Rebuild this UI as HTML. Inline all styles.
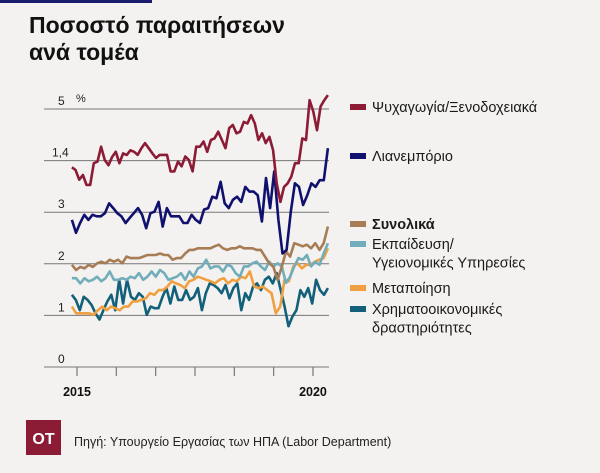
<!DOCTYPE html>
<html><head><meta charset="utf-8"><style>
body{margin:0;background:#f3f2f0;}
#wrap{position:relative;width:600px;height:473px;overflow:hidden;background:#f3f2f0;font-family:"Liberation Sans","DejaVu Sans",sans-serif;}
</style></head><body>
<div id="wrap">
<svg id="svg" width="600" height="473" xmlns="http://www.w3.org/2000/svg">
<rect x="0" y="0" width="152" height="3" fill="#1a1a6e"/>
<text x="29" y="33" font-size="23" font-weight="bold" fill="#111">Ποσοστό παραιτήσεων</text>
<text x="29" y="60" font-size="23" font-weight="bold" fill="#111">ανά τομέα</text>
<g id="grid"></g>
<g id="lines"></g>
<g id="legend"></g>
<rect x="26" y="420" width="35" height="35" fill="#8c1b35"/>
<text x="43.5" y="444" font-size="16" font-weight="bold" fill="#fff" text-anchor="middle">OT</text>
<text x="74" y="446" font-size="12.5" fill="#222">Πηγή: Υπουργείο Εργασίας των ΗΠΑ (Labor Department)</text>
</svg>
</div>
<script>
const yTickValues=[0,1,2,3,4,5];
const yTickLabels=["0","1","2","3","1,4","5"];
const xTickMonths=[0,10,20,30,40,50,60];
const xLabels=[{m:0,t:"2015"},{m:60,t:"2020"}];
const monthStart=-1.3, monthEnd=63.8;
const leisure=[3.87,3.82,3.63,3.72,3.53,3.53,3.95,3.98,4.27,4.01,3.91,4.07,4.17,3.95,4.14,4.11,4.2,4.17,4.11,4.24,4.34,4.24,4.14,4.05,4.11,4.11,4.11,3.79,3.79,3.98,3.89,4.08,4.01,3.79,4.27,4.27,4.37,4.17,4.4,4.43,4.56,4.4,4.24,4.63,4.69,4.53,4.56,4.75,4.72,4.88,4.72,4.4,4.53,4.34,4.46,4.2,3.56,3.2,3.49,3.56,3.69,3.95,3.95,4.43,4.4,5.17,4.95,4.59,5.05,5.17,5.27];
const retail=[2.85,2.6,2.79,2.95,2.85,2.95,2.92,2.92,2.98,3.17,3.08,2.98,2.92,2.79,2.89,2.98,3.08,2.95,2.69,2.98,3.01,3.2,2.72,3.08,2.92,2.92,2.92,2.79,2.79,2.95,2.85,2.79,3.05,3.08,3.3,3.27,3.59,3.17,3.08,3.24,3.3,3.2,3.49,3.4,3.4,3.33,2.82,3.66,3.08,3.79,2.85,2.2,2.27,3.01,3.56,3.49,3.14,3.33,3.56,3.49,3.62,3.62,4.24];
const total=[1.98,1.88,1.94,1.91,1.98,1.94,2.01,2.04,2.01,2.08,2.04,2.08,2.01,2.14,2.11,2.11,2.11,2.14,2.17,2.17,2.17,2.2,2.17,2.17,2.08,2.11,2.11,2.2,2.27,2.27,2.3,2.3,2.3,2.3,2.34,2.37,2.3,2.27,2.3,2.3,2.34,2.3,2.3,2.3,2.27,2.27,2.14,2.01,1.94,1.69,1.94,2.24,2.14,2.4,2.37,2.34,2.37,2.3,2.4,2.27,2.4,2.72];
const health=[1.72,1.72,1.62,1.72,1.66,1.69,1.75,1.66,1.72,1.85,1.69,1.69,1.72,1.69,1.75,1.72,1.82,1.69,1.75,1.85,1.75,1.88,1.82,1.69,1.72,1.75,1.82,1.69,1.85,1.75,1.91,1.95,2.08,1.91,1.95,1.95,1.85,1.98,1.95,1.82,1.75,1.95,1.95,2.01,2.04,1.95,1.88,2.04,1.95,2.01,1.95,1.63,1.75,1.95,2.11,2.08,2.17,1.95,2.04,1.98,2.2,2.4];
const manuf=[1.17,1.04,1.04,1.04,1.04,1.01,1.1,1.17,1.1,1.17,1.14,1.1,1.17,1.17,1.27,1.27,1.3,1.33,1.43,1.4,1.49,1.49,1.56,1.66,1.62,1.59,1.53,1.66,1.69,1.75,1.72,1.69,1.66,1.62,1.69,1.72,1.62,1.69,1.66,1.75,1.72,1.85,1.56,1.53,1.56,1.49,1.43,1.04,1.17,1.69,1.66,1.95,2.01,1.91,1.98,1.98,2.04,2.08,2.11,2.3];
const finance=[1.4,1.3,1.1,1.36,1.3,1.2,1.04,0.92,1.1,1.27,1.4,1.1,1.69,1.23,1.69,1.36,1.3,1.43,1.36,1.01,1.17,1.14,1.14,1.36,1.53,1.23,1.56,1.3,1.3,1.49,1.3,1.36,1.53,1.1,1.43,1.62,1.59,1.53,1.43,1.59,1.33,1.53,1.62,1.1,1.43,1.3,1.56,1.62,1.49,1.69,1.75,1.62,1.82,1.49,1.17,0.79,0.98,1.1,1.49,1.36,1.53,1.23,1.69,1.49,1.4,1.53];
const seriesNames=["Ψυχαγωγία/Ξενοδοχειακά","Λιανεμπόριο","Συνολικά","Εκπαίδευση/","Μεταποίηση","Χρηματοοικονομικές"];

const NS="http://www.w3.org/2000/svg";
const X0=77,PX_PER_M=3.933, Y0=367, PX_PER_U=51.6;
function xScale(m){return X0+m*PX_PER_M;}
function yScale(v){return Y0-v*PX_PER_U;}
function mk(tag,attrs,parent){const e=document.createElementNS(NS,tag);for(const k in attrs)e.setAttribute(k,attrs[k]);parent.appendChild(e);return e;}
const grid=document.getElementById('grid');
yTickValues.forEach((v,i)=>{
  const l=mk('line',{x1:44,x2:329,y1:yScale(v),y2:yScale(v),stroke:'#777','stroke-width':1},grid);
  
  
  const t=mk('text',{x:56,y:yScale(v)-4,'font-size':12,fill:'#222','text-anchor':'start'},grid);
  t.textContent=yTickLabels[i];
  t.setAttribute('x',yTickLabels[i].length>1?52:58);
  
  
});
const pct=mk('text',{x:76,y:102,'font-size':11,fill:'#222'},grid);pct.textContent='%';


xTickMonths.forEach(m=>{
  const l=mk('line',{x1:xScale(m),x2:xScale(m),y1:Y0,y2:Y0+9,stroke:'#777','stroke-width':1.2},grid);
  
  
});
xLabels.forEach(o=>{
  const t=mk('text',{x:xScale(o.m),y:396,'font-size':12.5,'font-weight':'bold',fill:'#111','text-anchor':'middle'},grid);
  t.textContent=o.t;
  
  
});
const series=[
 {d:finance,c:'#13607a',n:'line-finance'},
 {d:manuf,c:'#f0a040',n:'line-manufacturing'},
 {d:health,c:'#72adbb',n:'line-education-health'},
 {d:total,c:'#a87c55',n:'line-total'},
 {d:retail,c:'#10106e',n:'line-retail'},
 {d:leisure,c:'#8c1b35',n:'line-leisure-hospitality'}
];
const lg=document.getElementById('lines');
series.forEach(s=>{
  const n=s.d.length;
  const pts=s.d.map((v,i)=>{const m=monthStart+(monthEnd-monthStart)*i/(n-1);return xScale(m).toFixed(1)+','+yScale(v).toFixed(1);}).join(' ');
  const p=mk('polyline',{points:pts,fill:'none',stroke:s.c,'stroke-width':2.6,'stroke-linejoin':'round'},lg);
  
  
});
const legend=[
 {c:'#8c1b35',y:107,lines:[seriesNames[0]]},
 {c:'#10106e',y:156,lines:[seriesNames[1]]},
 {c:'#a87c55',y:224,lines:[seriesNames[2]],b:true},
 {c:'#72adbb',y:244,lines:[seriesNames[3],'Υγειονομικές Υπηρεσίες']},
 {c:'#f0a040',y:288,lines:[seriesNames[4]]},
 {c:'#13607a',y:309,lines:[seriesNames[5],'δραστηριότητες']}
];
const lgg=document.getElementById('legend');
legend.forEach((e,i)=>{
  const r=mk('rect',{x:350,y:e.y-3,width:16,height:6,fill:e.c},lgg);
  
  
  e.lines.forEach((txt,j)=>{
    const t=mk('text',{x:372,y:e.y+5+j*18.5,'font-size':14.5,fill:'#1a1a1a','font-weight':e.b?'bold':'normal'},lgg);
    t.textContent=txt;
    
    
  });
});
</script>
</body></html>
